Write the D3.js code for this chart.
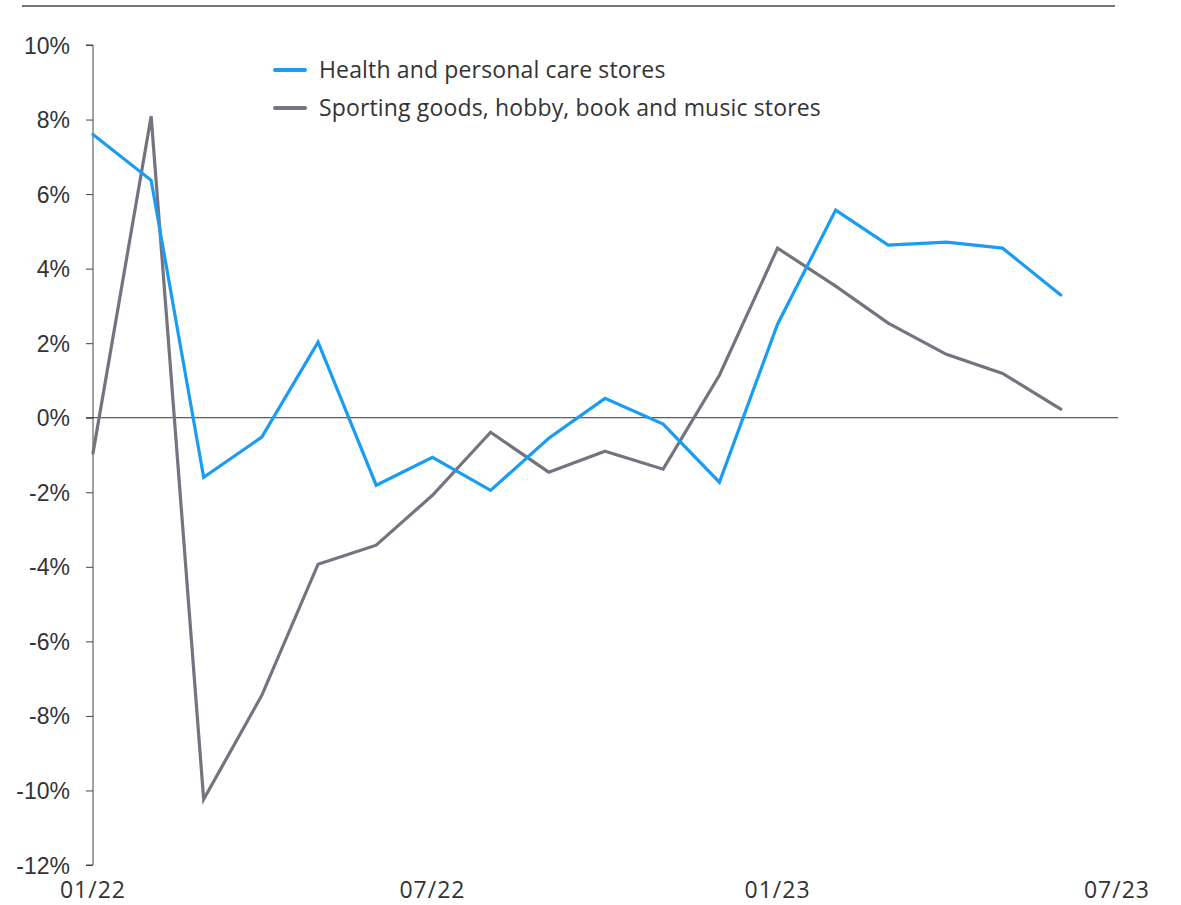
<!DOCTYPE html>
<html><head><meta charset="utf-8">
<script src="https://cdn.jsdelivr.net/npm/d3@7"></script>
<style>body{margin:0;background:#fff;} svg{display:block;font-family:"Open Sans","Noto Sans",sans-serif;}</style>
</head><body>
<svg id="c" width="1181" height="905"></svg>
<script>
const months = ["2022-01","2022-02","2022-03","2022-04","2022-05","2022-06","2022-07","2022-08","2022-09","2022-10","2022-11","2022-12","2023-01","2023-02","2023-03","2023-04","2023-05","2023-06"];
const health = [7.6,6.37,-1.6,-0.52,2.03,-1.81,-1.06,-1.95,-0.55,0.52,-0.17,-1.73,2.51,5.57,4.63,4.71,4.55,3.29];
const sporting = [-0.95,8.09,-10.24,-7.45,-3.93,-3.42,-2.08,-0.39,-1.46,-0.9,-1.38,1.14,4.55,3.53,2.54,1.70,1.19,0.23];
const seriesNames = ["Health and personal care stores","Sporting goods, hobby, book and music stores"];
const yTicks = [10,8,6,4,2,0,-2,-4,-6,-8,-10,-12];
const xTickLabels = ["01/22","07/22","01/23","07/23"];
const xTickDates = ["2022-01","2022-07","2023-01","2023-07"];

const parse = d3.timeParse("%Y-%m");
const svg = d3.select("#c");
const x = d3.scaleTime().domain([parse("2022-01"), parse("2023-07")]).range([93,1117]);
const y = d3.scaleLinear().domain([-12,10]).range([865,45]);
const colors = ["#1a9cf2","#74737f"];

// top rule
svg.append("line").attr("x1",22).attr("x2",1115).attr("y1",6).attr("y2",6).attr("stroke","#76747f").attr("stroke-width",2);

// y axis
const ya = svg.append("g").attr("transform","translate(93,0)")
  .call(d3.axisLeft(y).tickValues(yTicks).tickSize(7).tickPadding(16).tickFormat(d=>d+"%"));
ya.select(".domain").attr("stroke","#444").attr("d","M-7,"+y(10)+"H0V"+y(-12)+"H-7");
ya.selectAll(".tick line").attr("stroke","#444");
ya.selectAll(".tick text").attr("fill","#333").style("font-size","23px").attr("dy","0.35em");

// zero line
svg.append("line").attr("x1",86).attr("x2",1118).attr("y1",y(0)).attr("y2",y(0)).attr("stroke","#333").attr("stroke-width",1);

// x labels
svg.append("g").selectAll("text").data(xTickDates).join("text")
  .attr("x",d=>x(parse(d))).attr("y",898).attr("text-anchor","middle")
  .attr("fill","#333").style("font-size","23px").style("letter-spacing","1px").text((d,i)=>xTickLabels[i]);

// lines
const line = d3.line().x((d,i)=>x(parse(months[i]))).y(d=>y(d));
[sporting, health].forEach((s,k)=>{
  const idx = k===0?1:0;
  svg.append("path").datum(s).attr("d",line).attr("fill","none")
    .attr("stroke",colors[idx]).attr("stroke-width",3.2).attr("stroke-linejoin","miter").attr("stroke-linecap","round");
});

// legend
const lg = svg.append("g");
seriesNames.forEach((n,i)=>{
  const yy = 70 + i*38;
  lg.append("line").attr("x1",275).attr("x2",305).attr("y1",yy).attr("y2",yy).attr("stroke",colors[i]).attr("stroke-width",4).attr("stroke-linecap","round");
  lg.append("text").attr("x",319).attr("y",yy).attr("dy","0.35em").attr("fill","#333").style("font-size","23px").style("letter-spacing","0.15px").text(n);
});
</script>
</body></html>
